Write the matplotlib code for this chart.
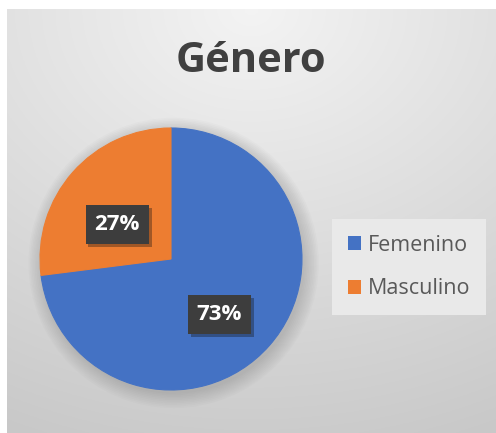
import numpy as np
import matplotlib.pyplot as plt
import matplotlib.patheffects as pe
from matplotlib.patches import Patch, Circle

labels = ['Femenino', 'Masculino']
values = [73, 27]
colors = ['#4472C4', '#ED7D31']
title = 'Género'

W, H = 496, 433
fig = plt.figure(figsize=(W / 100, H / 100), dpi=100)
fig.patch.set_facecolor('white')

# background with soft radial gradient
bg = fig.add_axes([7 / W, 0, 1 - 7 / W, (H - 9) / H])
yy, xx = np.mgrid[0:1:300j, 0:1:300j]
d = np.sqrt(((xx - 0.5) * 1.0) ** 2 + (yy * 1.1) ** 2)
shade = 0.955 - 0.17 * np.clip(d, 0, 1.2) / 1.2
bg.imshow(np.dstack([shade] * 3), extent=[0, 1, 1, 0], aspect='auto')
bg.set_xlim(0, 1); bg.set_ylim(1, 0); bg.axis('off')

# pie
cx, cy, r = 171, 259, 131
ax = fig.add_axes([(cx - r) / W, (H - cy - r) / H, 2 * r / W, 2 * r / H])
for k in range(10):
    ax.add_patch(Circle((0.02, -0.03), 1 + 0.012 * k, color='#6e6e6e', alpha=0.03, lw=0, zorder=0))
wedges, _, autotexts = ax.pie(values, colors=colors, startangle=90, counterclock=False,
                              autopct='%1.0f%%', pctdistance=0.52, radius=1,
                              wedgeprops=dict(linewidth=0.8, edgecolor='#4472C4'))
wedges[1].set_edgecolor(colors[1])
offsets = [(-0.02, -0.08), (-0.02, -0.08)]
for t, (ox, oy) in zip(autotexts, offsets):
    x, y = t.get_position()
    t.set_position((x + ox, y + oy))
    t.set_color('white')
    t.set_fontsize(16)
    t.set_fontweight('bold')
    t.set_family(['Open Sans', 'DejaVu Sans'])
    t.set_bbox(dict(boxstyle='square,pad=0.4', facecolor='#3d3d3d', edgecolor='none'))
    t.get_bbox_patch().set_path_effects([pe.SimplePatchShadow(offset=(2, -2), alpha=0.35), pe.Normal()])
    t.set_zorder(5)
ax.set_xlim(-1.15, 1.15); ax.set_ylim(-1.15, 1.15)
ax.set_position([(cx - r * 1.15) / W, (H - cy - r * 1.15) / H, 2 * r * 1.15 / W, 2 * r * 1.15 / H])
ax.axis('off')

fig.text(251 / W, 1 - 62 / H, title, ha='center', va='center', fontsize=30,
         fontweight='bold', color='#404040', family=['Open Sans', 'DejaVu Sans'])

handles = [Patch(facecolor=c, edgecolor='none') for c in colors]
leg = fig.legend(handles, labels, loc='center left', bbox_to_anchor=(332 / W, 1 - 267 / H),
                 frameon=True, handlelength=0.6, handleheight=0.6, borderaxespad=0,
                 handletextpad=0.3, labelspacing=1.05, borderpad=0.75,
                 prop=dict(family=['Open Sans', 'DejaVu Sans'], size=15.5))
leg.get_frame().set_facecolor('#e9e9e9')
leg.get_frame().set_edgecolor('none')
leg.get_frame().set_alpha(1)
leg.get_frame().set_boxstyle('square', pad=0)
for t in leg.get_texts():
    t.set_color('#595959')

fig.savefig('out.png', dpi=100)
